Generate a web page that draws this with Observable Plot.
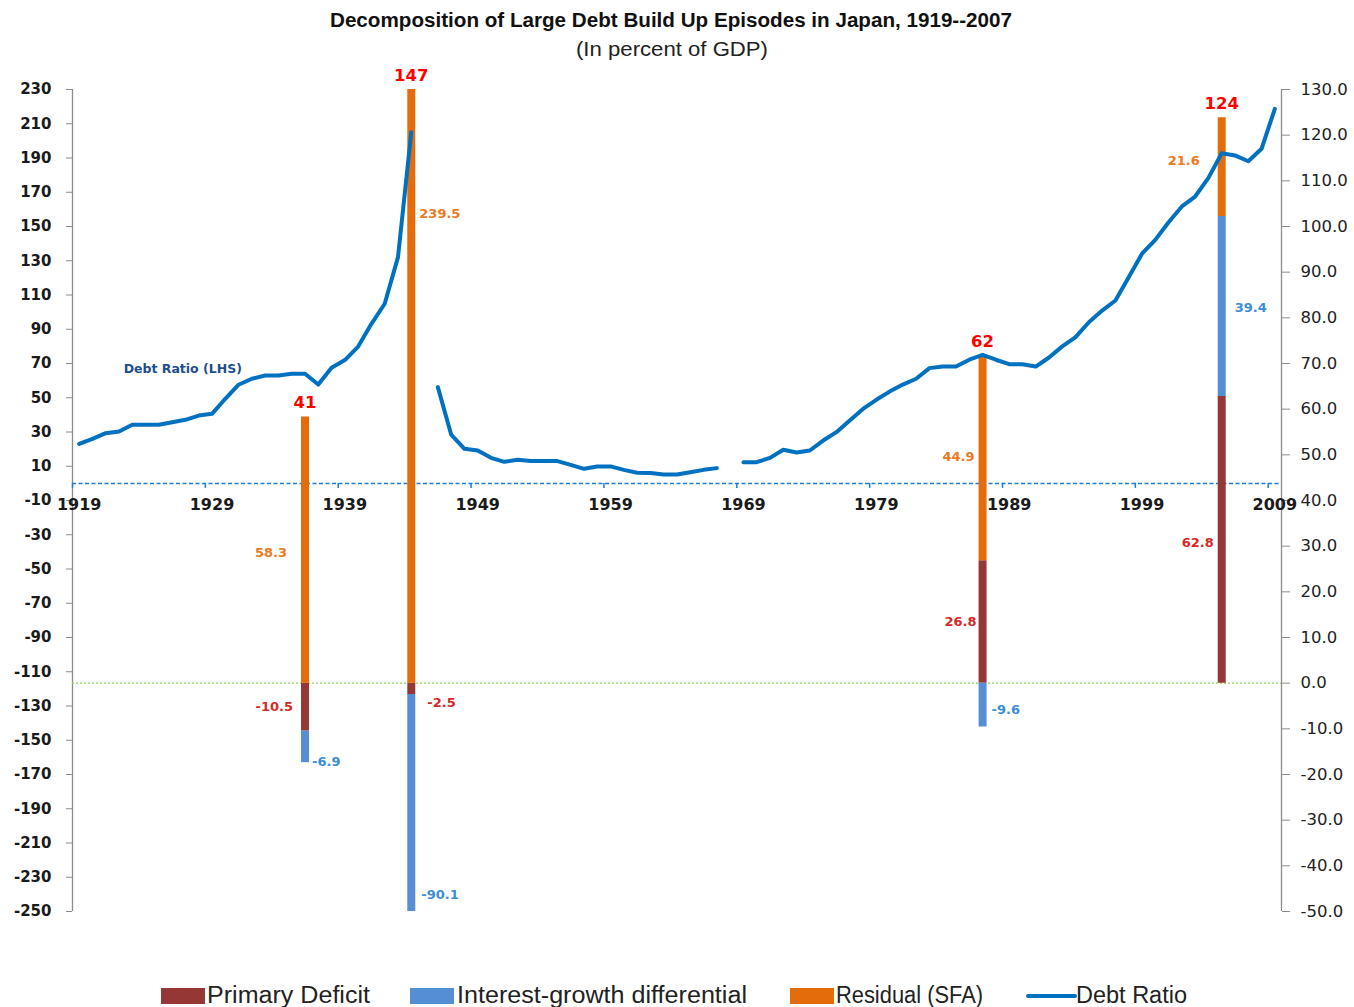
<!DOCTYPE html>
<html>
<head>
<meta charset="utf-8">
<script src="https://cdn.jsdelivr.net/npm/d3@7"></script>
<script src="https://cdn.jsdelivr.net/npm/@observablehq/plot@0.6"></script>
<style>
  html, body { margin: 0; padding: 0; background: #fff; }
  #wrap { position: relative; width: 1354px; height: 1007px; overflow: hidden; background: #fff; }
  #chart { position: absolute; left: 0; top: 0; }
  .over { position: absolute; left: 0; }
</style>
</head>
<body>
<div id="wrap">
  <div id="chart"></div>
  <svg id="head" class="over" style="top:0" width="1354" height="70"></svg>
  <svg id="legend" class="over" style="top:960" width="1354" height="47"></svg>
</div>
<script>
// ---------------- data ----------------
const titleText = "Decomposition of Large Debt Build Up Episodes in Japan, 1919--2007";
const subtitleText = "(In percent of GDP)";

// Debt ratio (LHS), 1919..2009 (null = no data)
const debtYears = d3.range(1919, 2010);
const debtValues = [
  23.1, 26.0, 29.3, 30.3, 34.2, 34.2, 34.2, 35.7, 37.1, 39.6,   // 1919-1928
  40.6, 49.4, 57.6, 61.1, 63.0, 63.0, 64.0, 64.0, 57.7, 67.5,   // 1929-1938
  72.0, 79.9, 93.2, 104.9, 132.1, 205.1, null, 56.2, 28.5, 20.2, // 1939-1948
  19.2, 14.9, 12.6, 13.8, 13.0, 13.0, 13.0, 10.8, 8.5, 9.9,     // 1949-1958
  9.9, 7.9, 6.2, 6.0, 5.2, 5.2, 6.5, 7.9, 8.9, null,            // 1959-1968
  12.4, 12.4, 14.9, 19.6, 18.0, 19.2, 25.0, 29.9, 36.7, 43.5,   // 1969-1978
  48.8, 53.6, 57.7, 61.1, 67.3, 68.2, 68.2, 72.2, 75.0, 72.2,   // 1979-1988
  69.6, 69.6, 68.2, 73.5, 80.0, 85.4, 94.1, 100.9, 106.8, 120.4,// 1989-1998
  134.1, 142.2, 152.5, 161.7, 167.5, 178.4, 192.8, 191.5, 188.1, 195.4, // 1999-2008
  218.7                                                          // 2009
];

// Debt build-up episodes (RHS)
const episodeYears = [1936, 1944, 1987, 2005];
const primaryDeficit = [-10.5, -2.5, 26.8, 62.8];
const interestGrowth = [-6.9, -90.1, -9.6, 39.4];
const residualSFA = [58.3, 239.5, 44.9, 21.6];
const episodeTotals = [41, 147, 62, 124];

const seriesNames = ["Primary Deficit", "Interest-growth differential", "Residual (SFA)"];
const lineName = "Debt Ratio";

// axis tick values
const leftTicks = d3.range(-250, 231, 20);
const rightTicks = d3.range(-50, 131, 10);
const xLabelYears = d3.range(1919, 2010, 10);

// ---------------- styles / layout ----------------
const barColors = ["#953735", "#558ED5", "#E46C0A"];
const labelColors = ["#D42A2A", "#3B8ED6", "#EB7A22"];
const lineColor = "#0070C0";
const leftDomain = [-250, 230];
const rightDomain = [-50, 130];
const xDomain = [1918.5, 2009.5];
const toLeft = r => leftDomain[0] + (r - rightDomain[0]) * (leftDomain[1] - leftDomain[0]) / (rightDomain[1] - rightDomain[0]);
const toRight = l => rightDomain[0] + (l - leftDomain[0]) * (rightDomain[1] - rightDomain[0]) / (leftDomain[1] - leftDomain[0]);

// label offsets [episode][series] -> [dx, dy, anchor]
const labelLayout = [
  [[-12, 0, "end"], [7, 15, "start"], [-18, 3, "end"]],
  [[16, 14, "start"], [10, 92, "start"], [8, -173, "start"]],
  [[-6, 0, "end"], [9, 5, "start"], [-8, -1, "end"]],
  [[-8, 3, "end"], [13, 1, "start"], [-22, -6, "end"]]
];
const debtLabel = {text: "Debt Ratio (LHS)", year: 1922.35, value: 67};

const W = 1354, H = 960;
const FONT = "DejaVu Sans, Verdana, sans-serif";

// ---------------- build rows ----------------
const debtRows = debtYears.map((year, i) => ({year, value: debtValues[i]}));
const seriesArrays = [primaryDeficit, interestGrowth, residualSFA];
const segs = [];
episodeYears.forEach((year, i) => {
  let pos = 0, neg = 0;
  seriesArrays.forEach((arr, s) => {
    const v = arr[i];
    let a, b;
    if (v >= 0) { a = pos; b = pos + v; pos = b; } else { a = neg; b = neg + v; neg = b; }
    segs.push({ep: i, year, s, series: seriesNames[s], value: v, r1: a, r2: b});
  });
});
const clampR = r => Math.max(rightDomain[0], Math.min(rightDomain[1], r));
const episodes = episodeYears.map((year, i) => {
  const top = d3.max(segs.filter(d => d.ep === i), d => Math.max(d.r1, d.r2));
  return {year, total: episodeTotals[i], top: clampR(top)};
});

const segLabelMarks = segs.map(d => {
  const [dx, dy, anchor] = labelLayout[d.ep][d.s];
  const mid = (clampR(d.r1) + clampR(d.r2)) / 2;
  return Plot.text([d], {
    x: "year", y: () => toLeft(mid), text: x => x.value.toFixed(1),
    dx, dy, textAnchor: anchor, fill: labelColors[d.s],
    fontSize: 13, fontWeight: "bold", fontFamily: FONT
  });
});

const plot = Plot.plot({
  width: W, height: H,
  marginLeft: 72, marginRight: W - 1281, marginTop: 89, marginBottom: H - 911,
  style: {fontFamily: FONT, fontSize: "15px", color: "#000", background: "transparent", overflow: "visible"},
  x: {domain: xDomain, axis: null},
  y: {domain: leftDomain, axis: null},
  color: {domain: seriesNames, range: barColors},
  marks: [
    // axis lines
    Plot.ruleX([xDomain[0]], {stroke: "#8c8c8c", strokeWidth: 1.3}),
    Plot.ruleX([xDomain[1]], {stroke: "#8c8c8c", strokeWidth: 1.3}),
    // left axis
    Plot.axisY({anchor: "left", ticks: leftTicks, tickSize: 6, tickPadding: 15, label: null,
      tickFormat: d => String(d), fontSize: 15, fontWeight: "bold", fill: "#1a1a1a", stroke: "#8c8c8c"}),
    // right axis
    Plot.axisY({anchor: "right", ticks: rightTicks.map(toLeft), tickSize: 8, tickPadding: 11, label: null,
      tickFormat: d => (Math.round(toRight(d) * 10) / 10).toFixed(1), fontSize: 16.5, fill: "#222", stroke: "#8c8c8c"}),
    // right zero line (green dotted)
    Plot.ruleY([toLeft(0)], {stroke: "#92D050", strokeWidth: 1.2, strokeDasharray: "2,2"}),
    // left zero line (blue dashed) = category axis
    Plot.ruleY([0], {stroke: "#1C7CD5", strokeWidth: 1.5, strokeDasharray: "4,2.5"}),
    Plot.ruleX(d3.range(xDomain[0], xDomain[1], 10), {y1: 0, y2: 0, insetBottom: -5, stroke: "#1C7CD5", strokeWidth: 1.5}),
    Plot.text(xLabelYears, {x: d => d, y: () => 0, text: d => String(d), dy: 21,
      fontSize: 16, fontWeight: "bold", fill: "#1a1a1a"}),
    // stacked episode bars (RHS)
    Plot.ruleX(segs, {x: "year", y1: d => toLeft(d.r1), y2: d => toLeft(d.r2), stroke: "series",
      strokeWidth: 8, strokeLinecap: "butt", clip: true}),
    // debt ratio line (LHS)
    Plot.line(debtRows, {x: "year", y: "value", stroke: lineColor, strokeWidth: 4,
      strokeLinejoin: "round", strokeLinecap: "round"}),
    // totals
    Plot.text(episodes, {x: "year", y: d => toLeft(d.top), text: d => String(d.total), dy: -9,
      lineAnchor: "bottom", fill: "#FF0000", fontSize: 16.5, fontWeight: "bold"}),
    ...segLabelMarks,
    Plot.text([debtLabel], {x: "year", y: "value", text: "text", textAnchor: "start",
      fill: "#1F4E8C", fontSize: 12.5, fontWeight: "bold"})
  ]
});
document.getElementById("chart").appendChild(plot);

// ---------------- title ----------------
const TFONT = "'Liberation Sans Narrow', 'Arial Narrow', 'Liberation Sans', sans-serif";
const head = d3.select("#head");
head.append("text").attr("x", 671).attr("y", 27).attr("text-anchor", "middle")
  .attr("font-family", TFONT).attr("font-weight", "bold").attr("font-size", 20).attr("fill", "#111")
  .attr("textLength", 682).attr("lengthAdjust", "spacingAndGlyphs").text(titleText);
head.append("text").attr("x", 672).attr("y", 56).attr("text-anchor", "middle")
  .attr("font-family", TFONT).attr("font-size", 20).attr("fill", "#222")
  .attr("textLength", 192).attr("lengthAdjust", "spacingAndGlyphs").text(subtitleText);

// ---------------- legend ----------------
const leg = d3.select("#legend");
const legendItems = [
  {name: seriesNames[0], kind: "rect", color: barColors[0], sx: 161, tx: 207, tw: 163},
  {name: seriesNames[1], kind: "rect", color: barColors[1], sx: 410, tx: 457, tw: 290},
  {name: seriesNames[2], kind: "rect", color: barColors[2], sx: 790, tx: 836, tw: 147},
  {name: lineName, kind: "line", color: lineColor, sx: 1028, tx: 1076, tw: 111}
];
legendItems.forEach(it => {
  if (it.kind === "rect") {
    leg.append("rect").attr("x", it.sx).attr("y", 28).attr("width", 44).attr("height", 16).attr("fill", it.color);
  } else {
    leg.append("line").attr("x1", it.sx).attr("x2", it.sx + 47).attr("y1", 36).attr("y2", 36)
      .attr("stroke", it.color).attr("stroke-width", 4).attr("stroke-linecap", "round");
  }
  leg.append("text").attr("x", it.tx).attr("y", 43).attr("font-family", TFONT).attr("font-size", 23)
    .attr("fill", "#222").attr("textLength", it.tw).attr("lengthAdjust", "spacingAndGlyphs").text(it.name);
});
</script>
</body>
</html>
